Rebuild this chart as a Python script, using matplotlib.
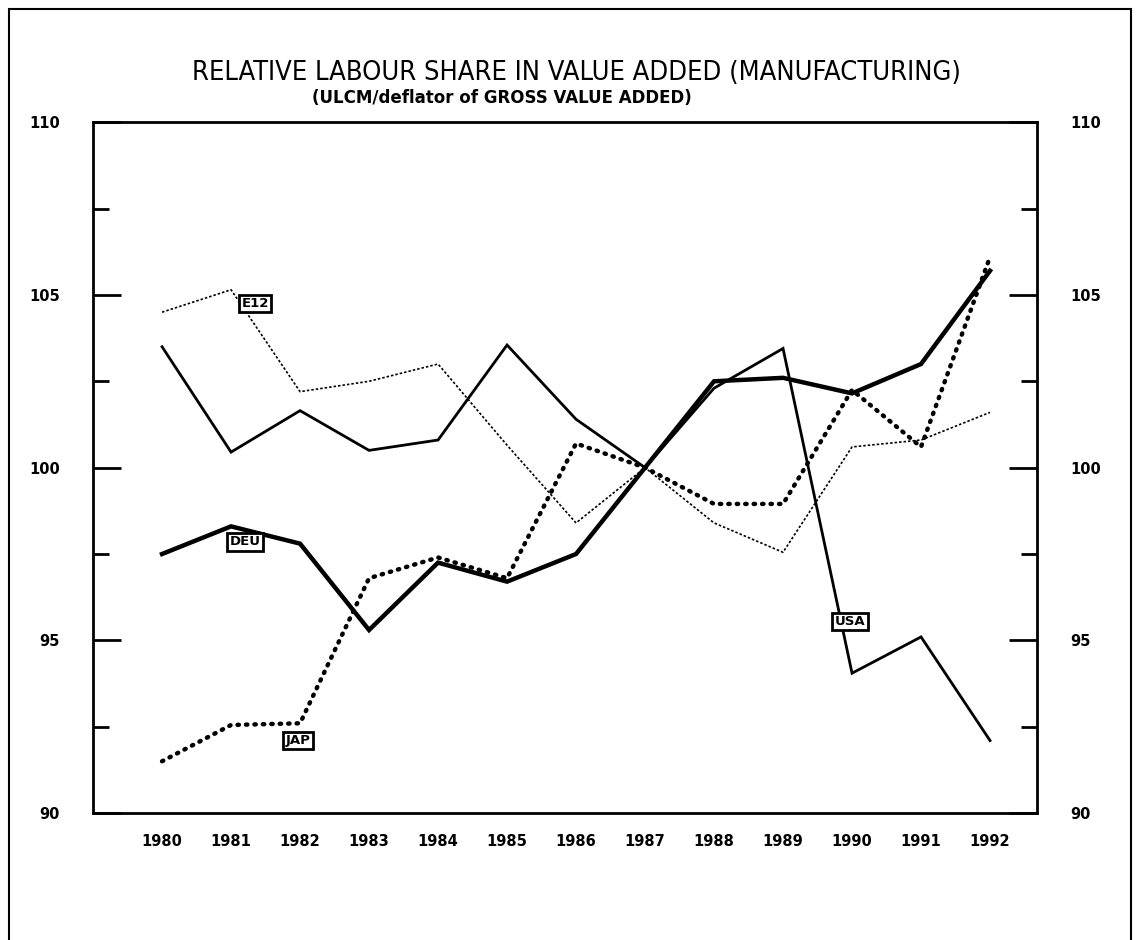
import matplotlib
matplotlib.use("Agg")
import matplotlib.pyplot as plt
from matplotlib.patches import Rectangle
from matplotlib.ticker import MultipleLocator, FixedLocator

years = list(range(1980, 1993))
usa = [103.5, 100.45, 101.65, 100.5, 100.8, 103.55, 101.4, 100.0, 102.3, 103.45, 94.05, 95.1, 92.1]
deu = [97.5, 98.3, 97.8, 95.3, 97.25, 96.7, 97.5, 100.0, 102.5, 102.6, 102.15, 103.0, 105.7]
jap = [91.5, 92.55, 92.6, 96.8, 97.4, 96.8, 100.7, 100.0, 98.95, 98.95, 102.25, 100.6, 106.1]
e12 = [104.5, 105.15, 102.2, 102.5, 103.0, 100.65, 98.4, 100.0, 98.4, 97.55, 100.6, 100.8, 101.6]

yticks = [90, 95, 100, 105, 110]

fig = plt.figure(figsize=(11.39, 9.40), dpi=100)
ax = fig.add_axes([0.0817, 0.135, 0.8287, 0.735])

ax.plot(years, e12, color="black", lw=1.2, linestyle=(0, (1.5, 1.2)))
ax.plot(years, jap, color="black", lw=3.2, linestyle=(0, (0.3, 1.6)), dash_capstyle="round")
ax.plot(years, usa, color="black", lw=2.0, solid_joinstyle="miter")
ax.plot(years, deu, color="black", lw=3.2, solid_joinstyle="miter")

ax.set_xlim(1979.0, 1992.68)
ax.set_ylim(90, 110)

ax.set_xticks(years)
ax.set_xticklabels([str(y) for y in years], fontsize=10.5, fontweight="bold")
ax.tick_params(axis="x", length=0, pad=15)

ax.yaxis.set_major_locator(FixedLocator(yticks))
ax.yaxis.set_minor_locator(MultipleLocator(2.5))
ax.tick_params(axis="y", which="both", direction="in", left=True, right=True,
               labelleft=True, labelright=True, width=2)
ax.tick_params(axis="y", which="major", length=20, labelsize=10.5, pad=24)
ax.tick_params(axis="y", which="minor", length=11.5)
for lab in ax.get_yticklabels():
    lab.set_fontweight("bold")

for s in ax.spines.values():
    s.set_linewidth(2)

box = dict(boxstyle="square,pad=0.18", fc="white", ec="black", lw=2)
ax.text(1981.35, 104.75, "E12", fontsize=9.5, fontweight="bold", ha="center", va="center", bbox=box)
ax.text(1981.2, 97.85, "DEU", fontsize=9.5, fontweight="bold", ha="center", va="center", bbox=box)
ax.text(1981.97, 92.1, "JAP", fontsize=9.5, fontweight="bold", ha="center", va="center", bbox=box)
ax.text(1989.97, 95.55, "USA", fontsize=9.5, fontweight="bold", ha="center", va="center", bbox=box)

fig.text(0.506, 0.922, "RELATIVE LABOUR SHARE IN VALUE ADDED (MANUFACTURING)",
         ha="center", va="center", fontsize=19.5, family="DejaVu Sans", fontstretch="condensed")
fig.text(0.441, 0.896, "(ULCM/deflator of GROSS VALUE ADDED)", ha="center", va="center",
         fontsize=12, fontweight="bold")

fig.patches.append(Rectangle((0.008, -0.01), 0.985, 1.0, transform=fig.transFigure,
                             fill=False, ec="black", lw=1.5))

fig.savefig("out.png", dpi=100)
